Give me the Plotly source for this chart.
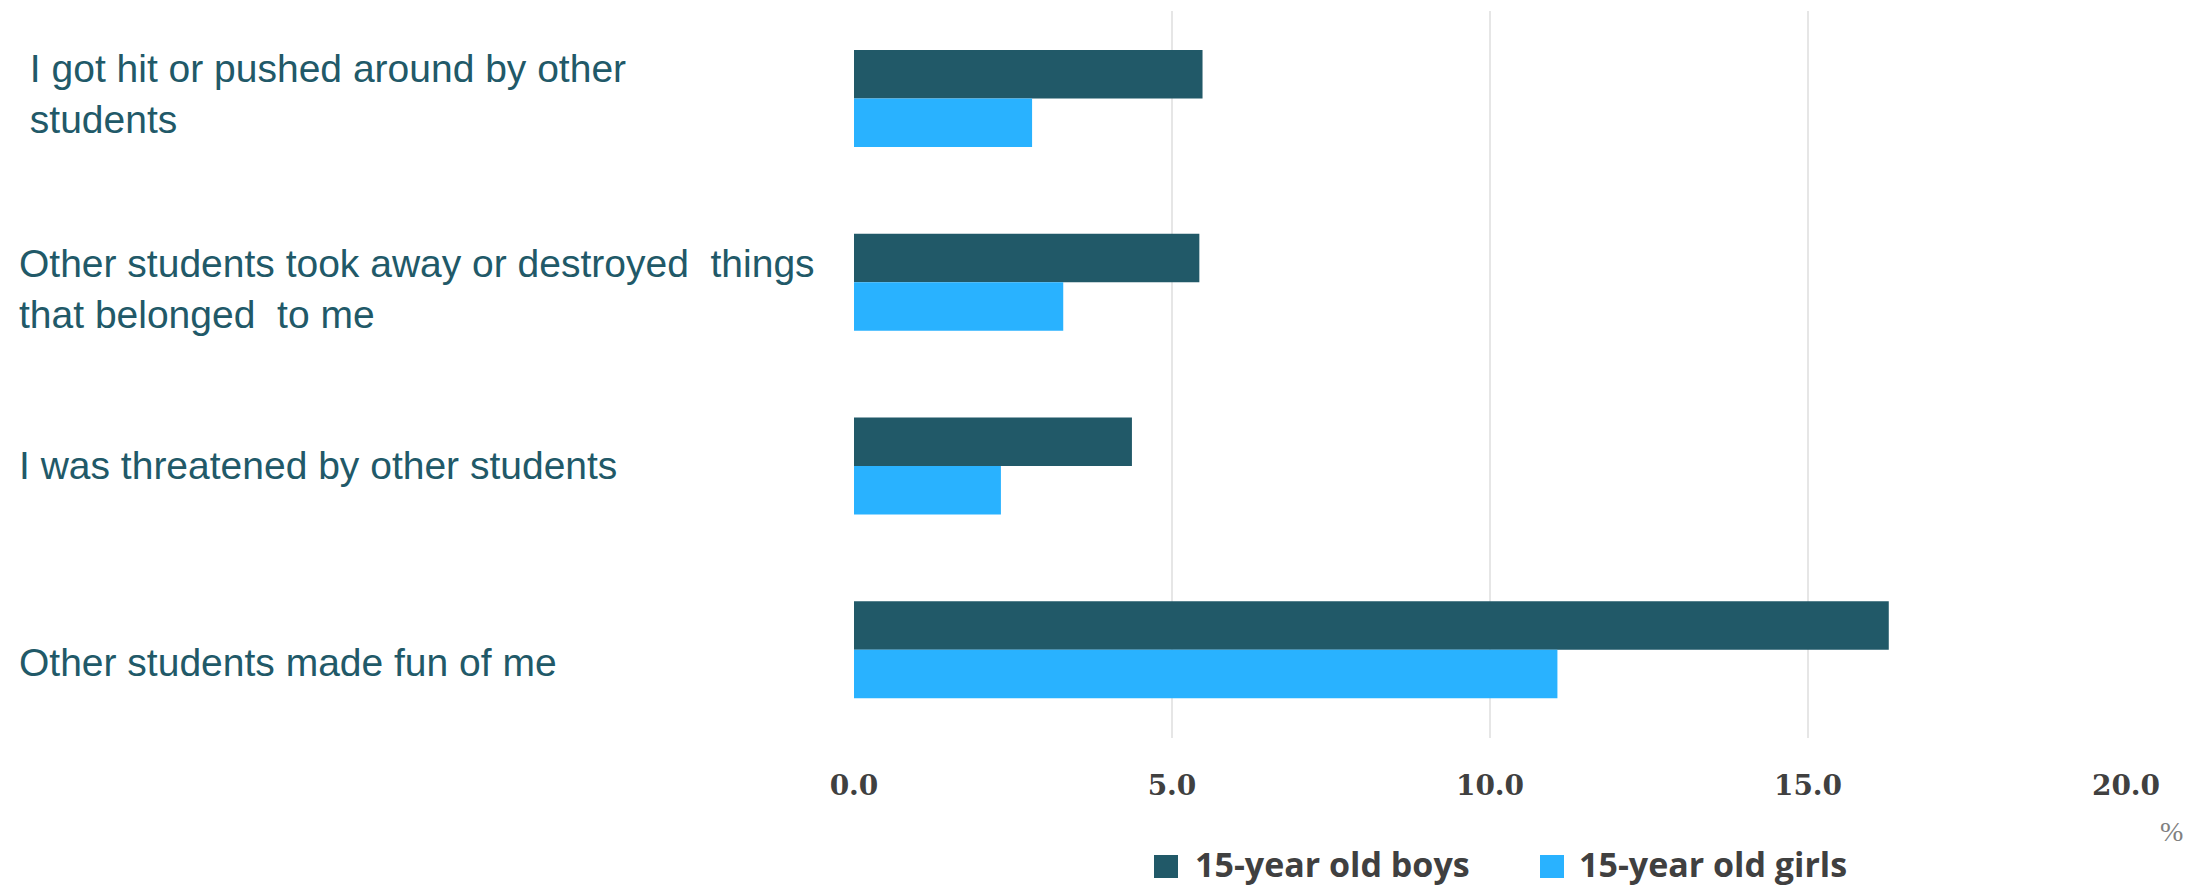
import plotly.graph_objects as go

# Survey items (top to bottom) and share of students reporting each (%)
categories = [
    "\u00a0I got hit or pushed around by other<br>\u00a0students",
    "Other students took away or destroyed  things<br>that belonged  to me",
    "I was threatened by other students",
    "Other students made fun of me",
]
boys = [5.48, 5.43, 4.37, 16.27]
girls = [2.80, 3.29, 2.31, 11.06]

series_names = ["15-year old boys", "15-year old girls"]
series_colors = ["#215968", "#29B2FF"]
x_ticks = [0, 5, 10, 15, 20]

W, H = 2205, 888
ML, MR, MT, MB = 854, 79, 11, 150
PW, PH = W - ML - MR, H - MT - MB

# vertical nudge (px) of each category label relative to its bar pair
label_nudge = [4, -7, 1, -13]


def px(x):
    """Pixel column -> paper x."""
    return (x - ML) / PW


def py(y):
    """Pixel row -> paper y."""
    return (H - MB - y) / PH


ypos = list(range(len(categories)))

fig = go.Figure()
for name, vals, color in zip(series_names, [boys, girls], series_colors):
    fig.add_trace(go.Bar(
        name=name, x=vals, y=ypos, orientation="h",
        marker=dict(color=color, line=dict(width=0)),
        showlegend=False, hoverinfo="x+name",
    ))

# Category labels, left aligned at the page edge
label_font = dict(family="Liberation Sans, Arial", size=39, color="#215968")
for i, text in enumerate(categories):
    fig.add_annotation(
        text=text, xref="paper", yref="y", x=px(17), y=i,
        xanchor="left", yanchor="middle", align="left", yshift=label_nudge[i],
        showarrow=False, font=label_font,
    )

# Unit marker under the axis
fig.add_annotation(
    text="%", xref="paper", yref="paper", x=px(2171), y=py(831),
    xanchor="center", yanchor="middle", showarrow=False,
    font=dict(family="Liberation Serif", size=28, color="#808080"),
)

# Legend: coloured squares with bold labels
legend_items = [(1154, 1193), (1540, 1577)]
for (sx, tx), name, color in zip(legend_items, series_names, series_colors):
    fig.add_shape(
        type="rect", xref="paper", yref="paper",
        x0=px(sx), x1=px(sx + 24), y0=py(878), y1=py(855),
        fillcolor=color, line=dict(width=0),
    )
    fig.add_annotation(
        text=name, xref="paper", yref="paper", x=px(tx), y=py(864),
        xanchor="left", yanchor="middle", showarrow=False,
        font=dict(family="Open Sans", size=34, color="#404040", weight="bold"),
    )

fig.update_layout(
    width=W, height=H,
    margin=dict(l=ML, r=MR, t=MT, b=MB, pad=0),
    paper_bgcolor="white", plot_bgcolor="white",
    barmode="group", bargap=0.472, bargroupgap=0,
    showlegend=False,
    xaxis=dict(
        range=[0, 20], tickvals=x_ticks, tickformat=".1f",
        showgrid=True, gridcolor="#e6e6e6", gridwidth=2,
        zeroline=False, showline=False, ticks="",
        ticklabelstandoff=28,
        tickfont=dict(family="DejaVu Serif", size=28, color="#404040", weight="bold"),
    ),
    yaxis=dict(
        range=[3.48, -0.476], showticklabels=False, showgrid=False,
        zeroline=False, showline=False, ticks="",
    ),
)

fig.write_html("out.html")
